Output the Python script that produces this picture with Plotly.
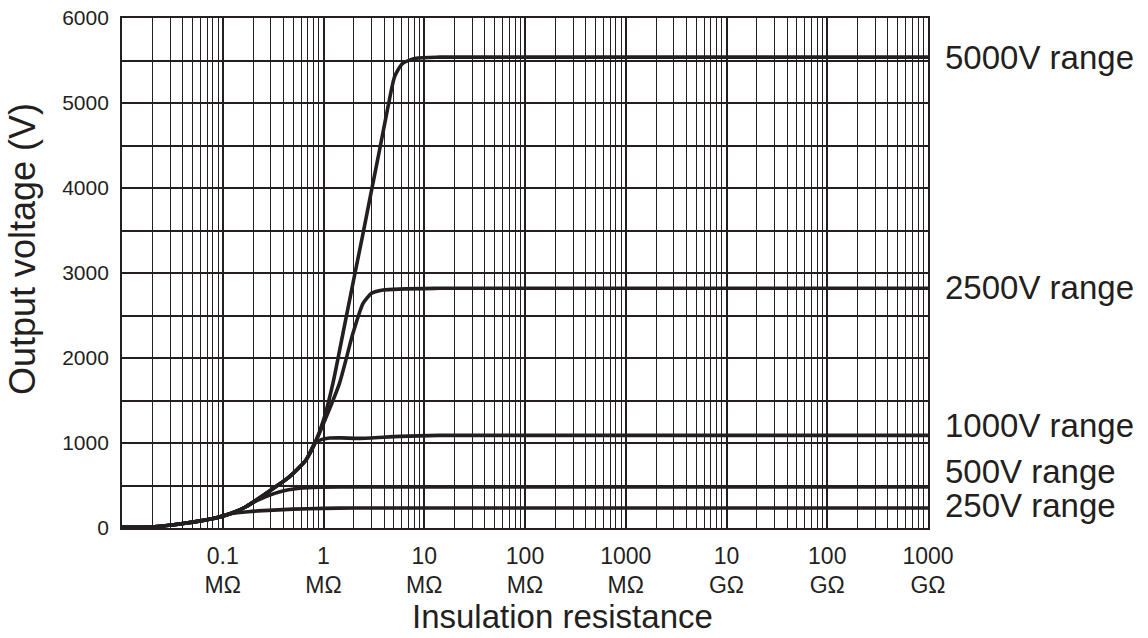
import plotly.graph_objects as go

# ---- data (resistance in MΩ, voltage in V) ----
trunk_r = [0.01, 0.021, 0.042, 0.083, 0.122, 0.17, 0.27, 0.46, 0.67, 0.82]
trunk_v = [8, 15, 55, 114, 173, 250, 408, 604, 800, 996]

r_250 = [0.01, 0.021, 0.042, 0.083, 0.122, 0.18, 0.25, 0.5, 1.0, 2.0, 10, 1e6]
v_250 = [8, 15, 55, 114, 170, 192, 204, 222, 231, 235, 236, 236]

r_500 = [0.01, 0.021, 0.042, 0.083, 0.122, 0.17, 0.22, 0.37, 0.58, 0.91, 1.5, 10, 1e6]
v_500 = [8, 15, 55, 114, 173, 250, 325, 427, 467, 480, 483, 484, 484]

r_1000 = trunk_r + [0.95, 1.15, 1.5, 2.3, 5.7, 14, 1e6]
v_1000 = trunk_v + [1040, 1058, 1060, 1055, 1078, 1090, 1090]

r_2500 = trunk_r + [1.0, 1.44, 1.96, 2.47, 3.0, 3.9, 14.2, 1e6]
v_2500 = trunk_v + [1230, 1702, 2290, 2643, 2761, 2800, 2820, 2820]

r_5000 = trunk_r + [1.0, 1.24, 1.56, 1.96, 2.47, 3.0, 3.6, 4.37, 5.08, 6.1, 8.3, 14.2, 1e6]
v_5000 = trunk_v + [1270, 1702, 2290, 2879, 3467, 3976, 4447, 4957, 5310, 5467, 5526, 5540, 5540]

series = [
    ("250V range", r_250, v_250, 268),
    ("500V range", r_500, v_500, 662),
    ("1000V range", r_1000, v_1000, 1211),
    ("2500V range", r_2500, v_2500, 2824),
    ("5000V range", r_5000, v_5000, 5530),
]

x_tickvals = [0.1, 1, 10, 100, 1000, 1e4, 1e5, 1e6]
x_ticktext = ["0.1<br>MΩ", "1<br>MΩ", "10<br>MΩ", "100<br>MΩ", "1000<br>MΩ",
              "10<br>GΩ", "100<br>GΩ", "1000<br>GΩ"]
minor_vals = [m * 10 ** e for e in range(-2, 6) for m in range(2, 10)]

INK = "#231f20"
FONT = "Arial, Liberation Sans, sans-serif"

fig = go.Figure()
for name, r, v, _ in series:
    fig.add_trace(go.Scatter(
        x=r, y=v, mode="lines", name=name,
        line=dict(color=INK, width=3.6, shape="spline", smoothing=0.6),
        showlegend=False, cliponaxis=True,
    ))

annotations = []
for name, r, v, ylab in series:
    annotations.append(dict(
        x=1.0, xref="paper", y=ylab, yref="y", text=name, showarrow=False,
        xanchor="left", yanchor="middle", xshift=15,
        font=dict(size=33, color=INK, family=FONT),
    ))
annotations.append(dict(
    x=0.546, xref="paper", y=-0.213, yref="paper", text="Insulation resistance",
    showarrow=False, xanchor="center", yanchor="bottom",
    font=dict(size=33, color=INK, family=FONT),
))
annotations.append(dict(
    x=-0.124, xref="paper", y=0.547, yref="paper", text="Output voltage (V)",
    showarrow=False, xanchor="center", yanchor="middle", textangle=-90,
    font=dict(size=36, color=INK, family=FONT),
))

fig.update_layout(
    width=1148, height=638,
    margin=dict(l=122, r=220, t=18, b=110, autoexpand=False),
    paper_bgcolor="white", plot_bgcolor="white",
    font=dict(family=FONT, color=INK),
    annotations=annotations,
    xaxis=dict(
        type="log", range=[-2, 6], automargin=False,
        tickmode="array", tickvals=x_tickvals, ticktext=x_ticktext,
        tickfont=dict(size=23, color=INK, family=FONT),
        showgrid=True, gridcolor=INK, gridwidth=1.6,
        minor=dict(tickmode="array", tickvals=minor_vals, showgrid=True,
                   gridcolor=INK, gridwidth=1.4, ticks=""),
        showline=True, linecolor=INK, linewidth=1.8, mirror=True,
        ticks="", zeroline=False, ticklabelstandoff=6,
    ),
    yaxis=dict(
        range=[0, 6000], dtick=1000, tick0=0, automargin=False,
        tickfont=dict(size=21, color=INK, family=FONT),
        showgrid=True, gridcolor=INK, gridwidth=1.6,
        minor=dict(dtick=500, showgrid=True, gridcolor=INK, gridwidth=1.6, ticks=""),
        showline=True, linecolor=INK, linewidth=1.8, mirror=True,
        ticks="", zeroline=False, ticklabelstandoff=7,
    ),
)

fig.write_html("out.html", config={"displayModeBar": False},
               post_script="document.body.style.margin='0';document.body.style.overflow='hidden';")
